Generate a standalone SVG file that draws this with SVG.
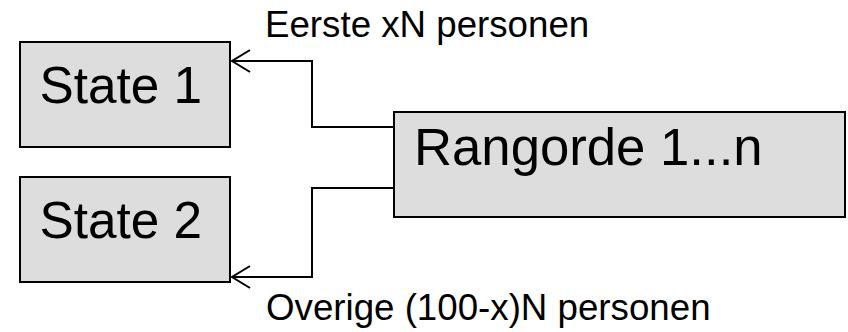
<svg xmlns="http://www.w3.org/2000/svg" width="848" height="332" viewBox="0 0 848 332">
<style>
.box{fill:#dddddd;stroke:#000;stroke-width:2}
.lbl{font-family:"Liberation Sans",Arial,sans-serif;fill:#000}
.conn{fill:none;stroke:#000;stroke-width:2}
</style>
<defs>
<marker id="arr" markerUnits="userSpaceOnUse" markerWidth="24" markerHeight="26" refX="20" refY="12" orient="auto" viewBox="0 0 24 24">
<path d="M2,1 L20,12 L2,23" fill="none" stroke="#000" stroke-width="2"/>
</marker>
</defs>
<rect width="848" height="332" fill="#fff"/>
<g id="state1">
<rect class="box" x="20" y="42" width="210" height="105"/>
<text class="lbl" x="39.5" y="103" font-size="51.3">State 1</text>
</g>
<g id="state2">
<rect class="box" x="20" y="177" width="210" height="105"/>
<text class="lbl" x="39.5" y="238" font-size="51.3">State 2</text>
</g>
<g id="rangorde">
<rect class="box" x="394" y="112" width="451" height="105"/>
<text class="lbl" x="414" y="165" font-size="52.7">Rangorde 1...n</text>
</g>
<g id="connectors">
<path class="conn" d="M394,127 H312 V61 H232" marker-end="url(#arr)"/>
<path class="conn" d="M394,188 H312 V277 H232" marker-end="url(#arr)"/>
<text class="lbl" x="265" y="37" font-size="36.7">Eerste xN personen</text>
<text class="lbl" x="266" y="320" font-size="36.7">Overige (100-x)N personen</text>
</g>
</svg>
